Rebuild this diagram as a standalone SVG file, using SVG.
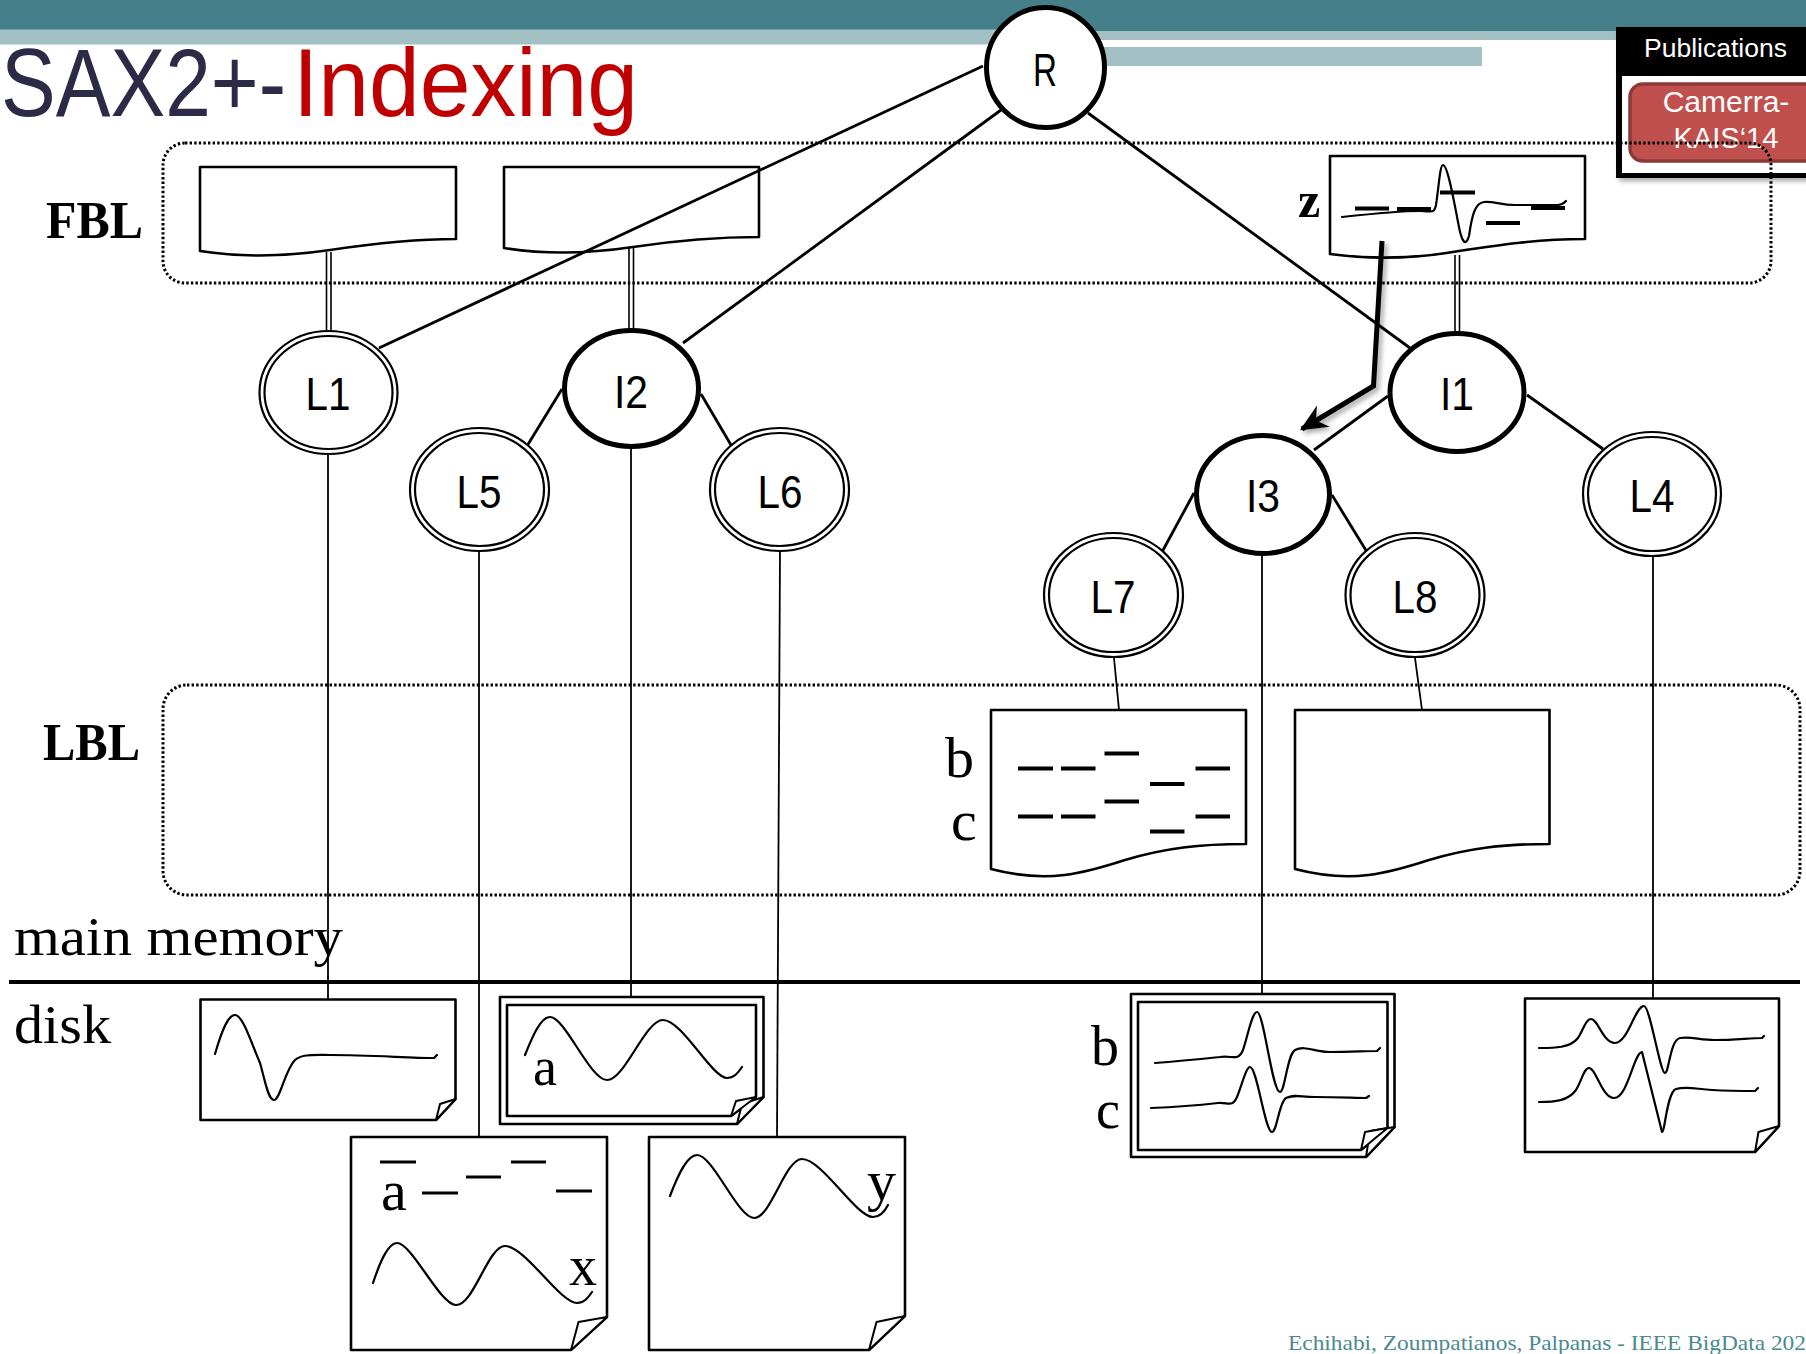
<svg xmlns="http://www.w3.org/2000/svg" width="1806" height="1354" viewBox="0 0 1806 1354">
  <defs>
    <style>
      .serif { font-family: "Liberation Serif", "Times New Roman", serif; fill: #000; }
      .sans { font-family: "Liberation Sans", Arial, sans-serif; }
      .node-label { font-family: "Liberation Sans", Arial, sans-serif; font-size: 46px; fill: #000; text-anchor: middle; }
      .zone { fill: none; stroke: #000; stroke-width: 3; stroke-dasharray: 2.4 2.2; }
      .doc { fill: #fff; stroke: #000; stroke-width: 2.6; stroke-linejoin: round; }
      .page { fill: #fff; stroke: #000; stroke-width: 2.6; stroke-linejoin: round; }
      .flap { fill: #fff; stroke: #000; stroke-width: 2; stroke-linejoin: round; }
      .edge { stroke: #000; stroke-width: 2.8; fill: none; }
      .thin { stroke: #000; stroke-width: 1.8; fill: none; }
      .pair { stroke: #000; stroke-width: 1.6; fill: none; }
      .inner-node { fill: #fff; stroke: #000; stroke-width: 5; }
      .leaf-out { fill: #fff; stroke: #000; stroke-width: 2.2; }
      .leaf-in { fill: none; stroke: #000; stroke-width: 2.2; }
      .wave { fill: none; stroke: #000; stroke-width: 2.2; stroke-linejoin: round; stroke-linecap: round; }
      .sax { stroke: #000; stroke-width: 4; }
      .sax-thin { stroke: #000; stroke-width: 3; }
    </style>
    <filter id="softShadow" x="-20%" y="-20%" width="140%" height="140%">
      <feDropShadow dx="3" dy="3" stdDeviation="2.5" flood-color="#000" flood-opacity="0.35"/>
    </filter>
    <marker id="arrowHead" markerUnits="userSpaceOnUse" viewBox="-26 -14 30 28" refX="0" refY="0" markerWidth="30" markerHeight="28" orient="auto">
      <path d="M0,0 L-22,-10 L-15,0 L-22,10 Z" fill="#000" stroke="#000" stroke-width="2" stroke-linejoin="miter"/>
    </marker>
  </defs>

  <rect x="0" y="0" width="1806" height="1354" fill="#fff"/>

  <!-- slide header bands -->
  <g id="header">
    <rect x="0" y="0" width="1806" height="30" fill="#45808A"/>
    <rect x="0" y="29.5" width="1066" height="15" fill="#A3C1C5"/>
    <rect x="1066" y="0" width="740" height="31" fill="#45808A"/>
    <rect x="1066" y="31" width="740" height="9" fill="#A3C1C5"/>
    <rect x="1069" y="47" width="413" height="19" fill="#A3C1C5"/>
    <text y="116" font-family="Liberation Sans, Arial, sans-serif" font-size="96"><tspan x="1" fill="#2B2B47" textLength="285" lengthAdjust="spacingAndGlyphs">SAX2+-</tspan><tspan x="293" fill="#C00000" textLength="345" lengthAdjust="spacingAndGlyphs">Indexing</tspan></text>
  </g>

  <!-- publication badge -->
  <g id="pub-badge">
    <rect x="1616" y="27" width="200" height="151" fill="#000" filter="url(#softShadow)"/>
    <rect x="1622" y="76" width="200" height="97" fill="#fff"/>
    <rect x="1630" y="84" width="190" height="77" rx="13" fill="#C0504D" stroke="#8C3A38" stroke-width="3.5"/>
    <text class="sans" x="1644" y="57" font-size="25" fill="#fff" textLength="143" lengthAdjust="spacingAndGlyphs">Publications</text>
    <text class="sans" x="1726" y="112" font-size="30" fill="#fff" text-anchor="middle">Camerra-</text>
    <text class="sans" x="1726" y="148" font-size="29" fill="#fff" text-anchor="middle">KAIS‘14</text>
  </g>

  <!-- first-buffer-layer and leaf-buffer-layer zones -->
  <g id="zone-fbl">
    <rect class="zone" x="163" y="143" width="1608" height="140" rx="22"/>
    <text class="serif" x="46" y="238" font-size="52" font-weight="bold" textLength="97" lengthAdjust="spacingAndGlyphs">FBL</text>
  </g>
  <g id="zone-lbl">
    <rect class="zone" x="163" y="685" width="1637" height="210" rx="24"/>
    <text class="serif" x="43" y="760" font-size="52" font-weight="bold" textLength="97" lengthAdjust="spacingAndGlyphs">LBL</text>
  </g>

  <!-- memory / disk boundary -->
  <g id="memory-divider">
    <line x1="9" y1="982" x2="1800" y2="982" stroke="#000" stroke-width="4"/>
    <text class="serif" x="14" y="955" font-size="55" textLength="329" lengthAdjust="spacingAndGlyphs">main memory</text>
    <text class="serif" x="14" y="1043" font-size="55" textLength="97" lengthAdjust="spacingAndGlyphs">disk</text>
  </g>

  <!-- FBL buffers -->
  <g id="fbl-buffer-1">
    <path class="doc" d="M200,167 H456 V239 C410,239 370,244 330,250 C290,256 245,258 200,251 Z"/>
  </g>
  <g id="fbl-buffer-2">
    <path class="doc" d="M504,167 H759 V237 C713,237 673,241 633,247 C593,253 548,255 504,248 Z"/>
  </g>
  <g id="fbl-buffer-z">
    <path class="doc" d="M1330,156 H1585 V239 C1539,239 1499,245 1459,251 C1419,258 1374,260 1330,254 Z"/>
    <text class="serif" x="1298" y="217" font-size="50" font-weight="bold">z</text>
    <path class="wave" d="M1342,217 C1370,214 1400,211 1420,211 C1432,211 1434,214 1436,205 C1439,185 1440,165 1443,165 C1447,165 1452,190 1458,222 C1462,245 1466,246 1469,236 C1472,215 1475,203 1484,202 C1494,201 1500,205 1515,205 C1530,205 1545,205 1558,205 C1562,205 1564,203 1566,201"/>
    <line class="sax" x1="1355" y1="208.5" x2="1389" y2="208.5"/>
    <line class="sax" x1="1397" y1="209" x2="1431" y2="209"/>
    <line class="sax" x1="1440" y1="192.5" x2="1475" y2="192.5"/>
    <line class="sax" x1="1486" y1="223" x2="1520" y2="223"/>
    <line class="sax" x1="1531" y1="208" x2="1565" y2="208"/>
  </g>

  <!-- connectors -->
  <g id="connectors">
    <line class="edge" x1="983" y1="66" x2="379" y2="348"/>
    <line class="edge" x1="1001" y1="110" x2="683" y2="343"/>
    <line class="edge" x1="1088" y1="113" x2="1410" y2="348"/>
    <line class="edge" x1="562" y1="389" x2="527" y2="446"/>
    <line class="edge" x1="701" y1="394" x2="731" y2="445"/>
    <line class="edge" x1="1388" y1="396" x2="1314" y2="450"/>
    <line class="edge" x1="1527" y1="395" x2="1603" y2="449"/>
    <line class="edge" x1="1194" y1="493" x2="1162" y2="552"/>
    <line class="edge" x1="1332" y1="495" x2="1367" y2="552"/>

    <line class="pair" x1="326.5" y1="252" x2="326.5" y2="331"/>
    <line class="pair" x1="331" y1="252" x2="331" y2="331"/>
    <line class="pair" x1="629" y1="248" x2="629" y2="329"/>
    <line class="pair" x1="633.5" y1="248" x2="633.5" y2="329"/>
    <line class="pair" x1="1455" y1="255" x2="1455" y2="332"/>
    <line class="pair" x1="1459.5" y1="255" x2="1459.5" y2="332"/>

    <line class="thin" x1="328" y1="455" x2="328" y2="1000"/>
    <line class="thin" x1="479" y1="552" x2="479" y2="1137"/>
    <line class="thin" x1="631" y1="448" x2="631" y2="998"/>
    <line class="thin" x1="780" y1="552" x2="777" y2="1137"/>
    <line class="thin" x1="1262" y1="556" x2="1262" y2="996"/>
    <line class="thin" x1="1653" y1="557" x2="1653" y2="998"/>
    <line class="thin" x1="1114" y1="658" x2="1119" y2="710"/>
    <line class="thin" x1="1415" y1="658" x2="1422" y2="710"/>

    <path d="M1382,241 L1373.5,386 L1302,429" fill="none" stroke="#000" stroke-width="5" stroke-linejoin="miter" marker-end="url(#arrowHead)" filter="url(#softShadow)"/>
  </g>

  <!-- index nodes -->
  <g id="node-R">
    <ellipse class="inner-node" cx="1045.5" cy="67.5" rx="59" ry="60" stroke-width="4.5"/>
    <text class="node-label" x="1045" y="86" textLength="24" lengthAdjust="spacingAndGlyphs">R</text>
  </g>
  <g id="node-L1">
    <ellipse class="leaf-out" cx="328.5" cy="392.5" rx="69" ry="61.5"/>
    <ellipse class="leaf-in" cx="328.5" cy="392.5" rx="64" ry="56.5"/>
    <text class="node-label" x="328" y="410" textLength="45" lengthAdjust="spacingAndGlyphs">L1</text>
  </g>
  <g id="node-I2">
    <ellipse class="inner-node" cx="631.5" cy="388.5" rx="67" ry="58"/>
    <text class="node-label" x="631" y="408" textLength="34" lengthAdjust="spacingAndGlyphs">I2</text>
  </g>
  <g id="node-L5">
    <ellipse class="leaf-out" cx="479.5" cy="489.5" rx="69.5" ry="61.5"/>
    <ellipse class="leaf-in" cx="479.5" cy="489.5" rx="64.5" ry="56.5"/>
    <text class="node-label" x="479" y="508" textLength="45" lengthAdjust="spacingAndGlyphs">L5</text>
  </g>
  <g id="node-L6">
    <ellipse class="leaf-out" cx="779.5" cy="489.5" rx="69.5" ry="61.5"/>
    <ellipse class="leaf-in" cx="779.5" cy="489.5" rx="64.5" ry="56.5"/>
    <text class="node-label" x="780" y="508" textLength="45" lengthAdjust="spacingAndGlyphs">L6</text>
  </g>
  <g id="node-I1">
    <ellipse class="inner-node" cx="1457" cy="392.5" rx="67" ry="59"/>
    <text class="node-label" x="1457" y="410" textLength="34" lengthAdjust="spacingAndGlyphs">I1</text>
  </g>
  <g id="node-I3">
    <ellipse class="inner-node" cx="1263" cy="494.5" rx="66.5" ry="59"/>
    <text class="node-label" x="1263" y="512" textLength="34" lengthAdjust="spacingAndGlyphs">I3</text>
  </g>
  <g id="node-L4">
    <ellipse class="leaf-out" cx="1652" cy="494" rx="69" ry="62"/>
    <ellipse class="leaf-in" cx="1652" cy="494" rx="64" ry="57"/>
    <text class="node-label" x="1652" y="512" textLength="45" lengthAdjust="spacingAndGlyphs">L4</text>
  </g>
  <g id="node-L7">
    <ellipse class="leaf-out" cx="1113.5" cy="595" rx="69.5" ry="62"/>
    <ellipse class="leaf-in" cx="1113.5" cy="595" rx="64.5" ry="57"/>
    <text class="node-label" x="1113" y="613" textLength="45" lengthAdjust="spacingAndGlyphs">L7</text>
  </g>
  <g id="node-L8">
    <ellipse class="leaf-out" cx="1415" cy="595" rx="69.5" ry="62"/>
    <ellipse class="leaf-in" cx="1415" cy="595" rx="64.5" ry="57"/>
    <text class="node-label" x="1415" y="613" textLength="45" lengthAdjust="spacingAndGlyphs">L8</text>
  </g>

  <!-- LBL buffers -->
  <g id="lbl-buffer-L7">
    <path class="doc" d="M991,710 H1246 V844 C1200,844 1165,848 1125,860 C1085,873 1048,884 991,869 Z"/>
    <text class="serif" x="945" y="777" font-size="58">b</text>
    <text class="serif" x="951" y="840" font-size="58">c</text>
    <line class="sax" x1="1018" y1="768.5" x2="1053" y2="768.5"/>
    <line class="sax" x1="1061" y1="768.5" x2="1095.5" y2="768.5"/>
    <line class="sax" x1="1104.5" y1="753.5" x2="1139" y2="753.5"/>
    <line class="sax" x1="1150" y1="784" x2="1184.5" y2="784"/>
    <line class="sax" x1="1195.5" y1="768.5" x2="1230" y2="768.5"/>
    <line class="sax" x1="1018" y1="816.5" x2="1053" y2="816.5"/>
    <line class="sax" x1="1061" y1="816.5" x2="1095.5" y2="816.5"/>
    <line class="sax" x1="1104.5" y1="801.5" x2="1139" y2="801.5"/>
    <line class="sax" x1="1150" y1="831.5" x2="1184.5" y2="831.5"/>
    <line class="sax" x1="1195.5" y1="816.5" x2="1230" y2="816.5"/>
  </g>
  <g id="lbl-buffer-L8">
    <path class="doc" d="M1295,710 H1549.5 V844 C1504,844 1469,848 1429,860 C1389,873 1352,884 1295,869 Z"/>
  </g>

  <!-- disk pages -->
  <g id="disk-L1">
    <path class="page" d="M200.5,999.5 H455.5 V1099 L436,1120 H200.5 Z"/>
    <path class="flap" d="M436,1120 L440,1104 L455.5,1099 Z"/>
    <path class="wave" d="M215,1054 C222,1030 228,1015 235,1015 C243,1015 252,1045 260,1063 C265,1080 268,1100 274,1100 C280,1100 285,1070 295,1060 C302,1054 312,1055 330,1055 C370,1055 410,1058 434,1058 L437,1055"/>
  </g>
  <g id="disk-I2">
    <path class="page" d="M500,997 H763.5 V1097 L737,1124 H500 Z" stroke-width="3.5"/>
    <path class="page" d="M507,1005 H756 V1097 L731,1116 H507 Z" stroke-width="4"/>
    <path class="flap" d="M737,1124 L742,1104 L763.5,1097 Z" stroke-width="3"/>
    <path class="flap" d="M731,1116 L736,1101 L756,1097 Z" stroke-width="2.5"/>
    <text class="serif" x="533" y="1085" font-size="54">a</text>
    <path class="wave" d="M525,1055 C533,1035 541,1017 550,1017 C565,1017 590,1080 607,1080 C625,1080 645,1020 663,1020 C682,1020 712,1078 727,1078 C734,1078 738,1073 742,1067"/>
  </g>
  <g id="disk-L5">
    <path class="page" d="M351,1137 H607 V1317 L571,1350 H351 Z"/>
    <path class="flap" d="M571,1350 L578.5,1322 L607,1317 Z"/>
    <text class="serif" x="381" y="1210" font-size="58">a</text>
    <line class="sax-thin" x1="380" y1="1162" x2="416" y2="1162"/>
    <line class="sax-thin" x1="422" y1="1193" x2="458" y2="1193"/>
    <line class="sax-thin" x1="466" y1="1177" x2="501" y2="1177"/>
    <line class="sax-thin" x1="511" y1="1162" x2="546" y2="1162"/>
    <line class="sax-thin" x1="556" y1="1191" x2="592" y2="1191"/>
    <text class="serif" x="569" y="1285" font-size="56">x</text>
    <path class="wave" d="M373,1283 C380,1262 388,1243 397,1243 C412,1243 440,1305 456,1305 C474,1305 488,1246 505,1246 C525,1246 560,1303 577,1303 C584,1303 588,1298 592,1292"/>
  </g>
  <g id="disk-L6">
    <path class="page" d="M649,1137 H905 V1316 L869,1350 H649 Z"/>
    <path class="flap" d="M869,1350 L876.5,1322 L905,1316 Z"/>
    <text class="serif" x="867" y="1200" font-size="58">y</text>
    <path class="wave" d="M670,1196 C678,1175 687,1155 697,1155 C713,1155 738,1218 754,1218 C771,1218 785,1159 802,1159 C822,1159 856,1217 873,1217 C880,1217 885,1211 888,1205"/>
  </g>
  <g id="disk-I3">
    <path class="page" d="M1131,994 H1394.5 V1127 L1366,1157 H1131 Z" stroke-width="3.5"/>
    <path class="page" d="M1138,1002 H1387.5 V1128 L1361,1150 H1138 Z" stroke-width="4"/>
    <path class="flap" d="M1366,1157 L1370,1131 L1394.5,1127 Z" stroke-width="3"/>
    <path class="flap" d="M1361,1150 L1365,1132 L1387.5,1128 Z" stroke-width="2.5"/>
    <text class="serif" x="1091" y="1065" font-size="56">b</text>
    <text class="serif" x="1096" y="1128" font-size="54">c</text>
    <path class="wave" d="M1155,1063 C1180,1061 1200,1059 1220,1057 C1232,1055 1238,1062 1243,1050 C1248,1035 1252,1012 1257,1012 C1264,1012 1272,1092 1280,1092 C1285,1092 1287,1055 1295,1050 C1305,1045 1315,1052 1330,1052 C1350,1052 1365,1051 1377,1051 L1380,1048"/>
    <path class="wave" d="M1151,1108 C1175,1107 1200,1105 1218,1103 C1228,1102 1232,1108 1237,1097 C1242,1085 1246,1067 1250,1067 C1257,1067 1265,1132 1272,1132 C1277,1132 1279,1102 1286,1098 C1295,1094 1300,1097 1315,1097 C1340,1097 1355,1098 1366,1098 L1369,1096"/>
  </g>
  <g id="disk-L4">
    <path class="page" d="M1525,998.5 H1779 V1126 L1755,1152 H1525 Z"/>
    <path class="flap" d="M1755,1152 L1758.5,1132 L1779,1126 Z"/>
    <path class="wave" d="M1539,1048 C1555,1048 1570,1048 1578,1038 C1584,1028 1586,1019 1591,1019 C1598,1019 1603,1043 1615,1043 C1628,1043 1635,1006 1644,1006 C1650,1006 1660,1073 1665,1073 C1669,1073 1670,1040 1680,1038 C1690,1036 1700,1040 1715,1040 C1735,1040 1750,1038 1762,1038 L1764,1036"/>
    <path class="wave" d="M1539,1102 C1555,1102 1568,1101 1576,1090 C1582,1080 1584,1068 1589,1068 C1596,1068 1602,1098 1614,1098 C1628,1098 1634,1052 1642,1052 L1662,1132 C1665,1132 1667,1092 1676,1089 C1686,1086 1696,1089 1712,1090 C1730,1091 1745,1091 1755,1091 L1758,1088"/>
  </g>

  <!-- footer -->
  <g id="footer">
    <text class="serif" x="1288" y="1350" font-size="21" style="fill:#4A8A8E" textLength="518" lengthAdjust="spacingAndGlyphs">Echihabi, Zoumpatianos, Palpanas - IEEE BigData 202</text>
  </g>
</svg>
